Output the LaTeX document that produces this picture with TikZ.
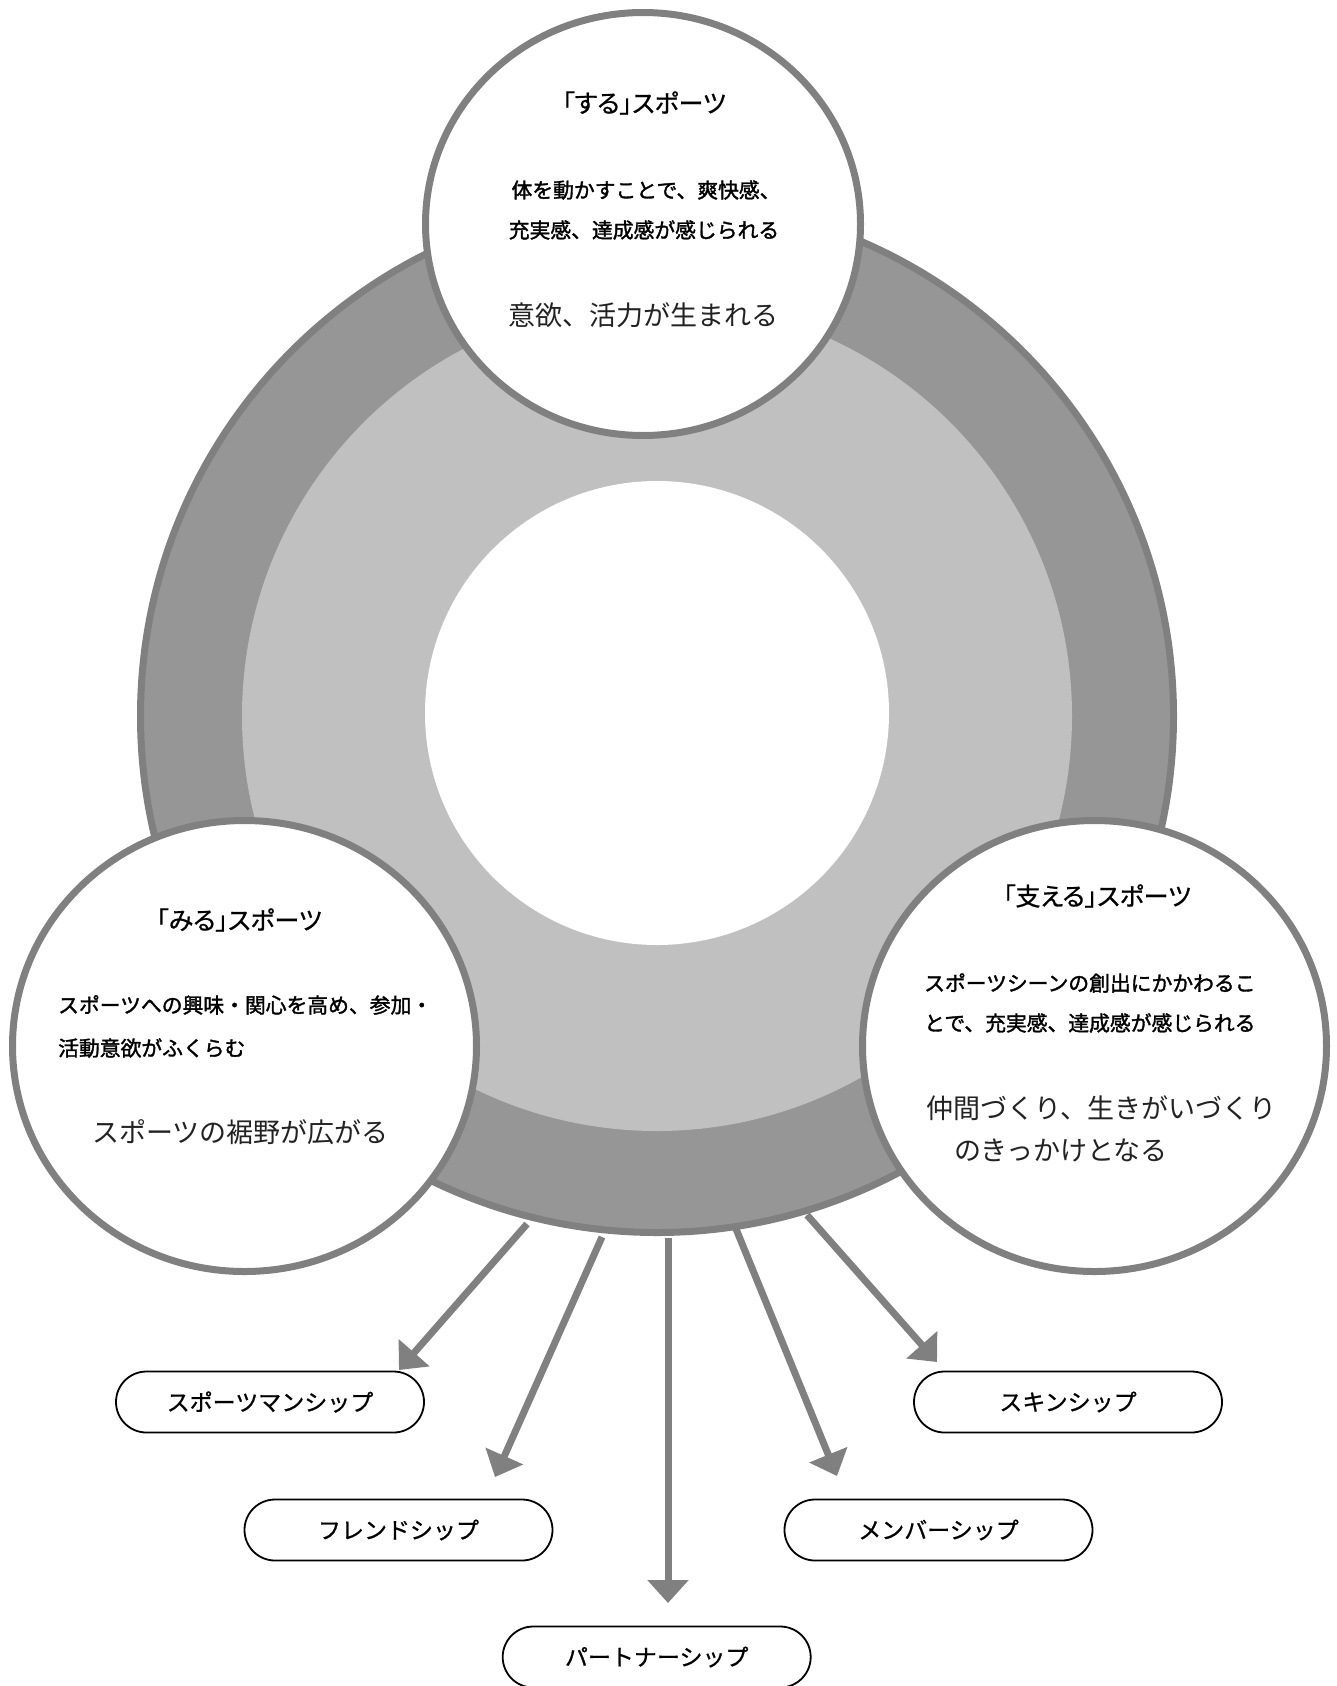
\documentclass[tikz,border=0pt]{standalone}
\usepackage{fontspec}
\setmainfont{Noto Sans CJK JP}
\newfontfamily\jpdesc[FakeBold=1.6]{Noto Sans CJK JP}
\newfontfamily\jptitle[FakeBold=0.8,RawFeature=+palt]{Noto Sans CJK JP}
\newfontfamily\jppill[FakeBold=0.8]{Noto Sans CJK JP}
\usetikzlibrary{arrows.meta,shapes.geometric}
\definecolor{ringdark}{HTML}{969696}
\definecolor{ringline}{HTML}{808080}
\definecolor{ringlight}{HTML}{C0C0C0}
\definecolor{txtlight}{HTML}{222222}
\begin{document}
\begin{tikzpicture}[x=1pt,y=-1pt,
  title/.style={font=\jptitle\fontsize{25}{29}\selectfont, inner sep=0pt},
  desc/.style={font=\jpdesc\fontsize{20.8}{25}\selectfont, inner sep=0pt},
  big/.style={font=\fontsize{27}{32}\selectfont, text=txtlight, inner sep=0pt},
  bubble/.style={ellipse, draw=ringline, line width=7pt, fill=white, inner sep=0pt},
  pill/.style={draw=black, line width=1.8pt, fill=white, rounded corners=30.5pt,
    minimum width=308pt, minimum height=61pt, inner sep=0pt, font=\jppill\fontsize{23}{27}\selectfont},
  flow/.style={draw=ringline, line width=7pt, -{Triangle[width=40pt,length=23pt]}}]
\useasboundingbox (0,0) rectangle (1336,1686);
% ring
\coordinate (ctr) at (657,716);
\coordinate (ictr) at (657,713);
\draw[ringline, line width=7pt, fill=ringdark] (ctr) circle[radius=516.5pt];
\fill[ringlight] (ctr) circle[radius=415pt];
\fill[white] (ictr) circle[radius=232pt];
% arrows
\coordinate (s1) at (527,1224); \coordinate (t1) at (399,1370);
\coordinate (s2) at (602,1237); \coordinate (t2) at (495,1477);
\coordinate (s3) at (668,1238); \coordinate (t3) at (668,1603);
\coordinate (s4) at (734,1224); \coordinate (t4) at (837,1476);
\coordinate (s5) at (807,1215); \coordinate (t5) at (937,1362);
\draw[flow] (s1) -- (t1);
\draw[flow] (s2) -- (t2);
\draw[flow] (s3) -- (t3);
\draw[flow] (s4) -- (t4);
\draw[flow] (s5) -- (t5);
% bubbles
\node[bubble, minimum width=435pt, minimum height=423pt] (suru) at (643,224) {};
\node[bubble, minimum width=464pt, minimum height=451pt] (miru) at (244.5,1046) {};
\node[bubble, minimum width=464pt, minimum height=451pt] (sasa) at (1094.5,1046) {};
% top texts
\node[title] (suruT) at (644,103) {「する」スポーツ};
\node[desc] (suruA) at (646,190) {体を動かすことで、爽快感、};
\node[desc] (suruB) at (644,230) {充実感、達成感が感じられる};
\node[big] (suruC) at (643,315) {意欲、活力が生まれる};
% left texts
\node[title] (miruT) at (239,920) {「みる」スポーツ};
\node[desc, anchor=west] (miruA) at (58,1005) {スポーツへの興味・関心を高め、参加・};
\node[desc, anchor=west] (miruB) at (58,1048) {活動意欲がふくらむ};
\node[big] (miruC) at (240.5,1132) {スポーツの裾野が広がる};
% right texts
\node[title] (sasaT) at (1097,896) {「支える」スポーツ};
\node[desc, anchor=west] (sasaA) at (924,983) {スポーツシーンの創出にかかわるこ};
\node[desc, anchor=west] (sasaB) at (924,1023) {とで、充実感、達成感が感じられる};
\node[big, anchor=west] (sasaC) at (926,1108) {仲間づくり、生きがいづくり};
\node[big, anchor=west] (sasaD) at (954,1150) {のきっかけとなる};
% pills
\node[pill] (sm) at (270,1402) {スポーツマンシップ};
\node[pill] (fr) at (398.5,1530) {フレンドシップ};
\node[pill] (pt) at (656.7,1657) {パートナーシップ};
\node[pill] (me) at (938.5,1530) {メンバーシップ};
\node[pill] (sk) at (1068,1402) {スキンシップ};
\end{tikzpicture}
\end{document}
